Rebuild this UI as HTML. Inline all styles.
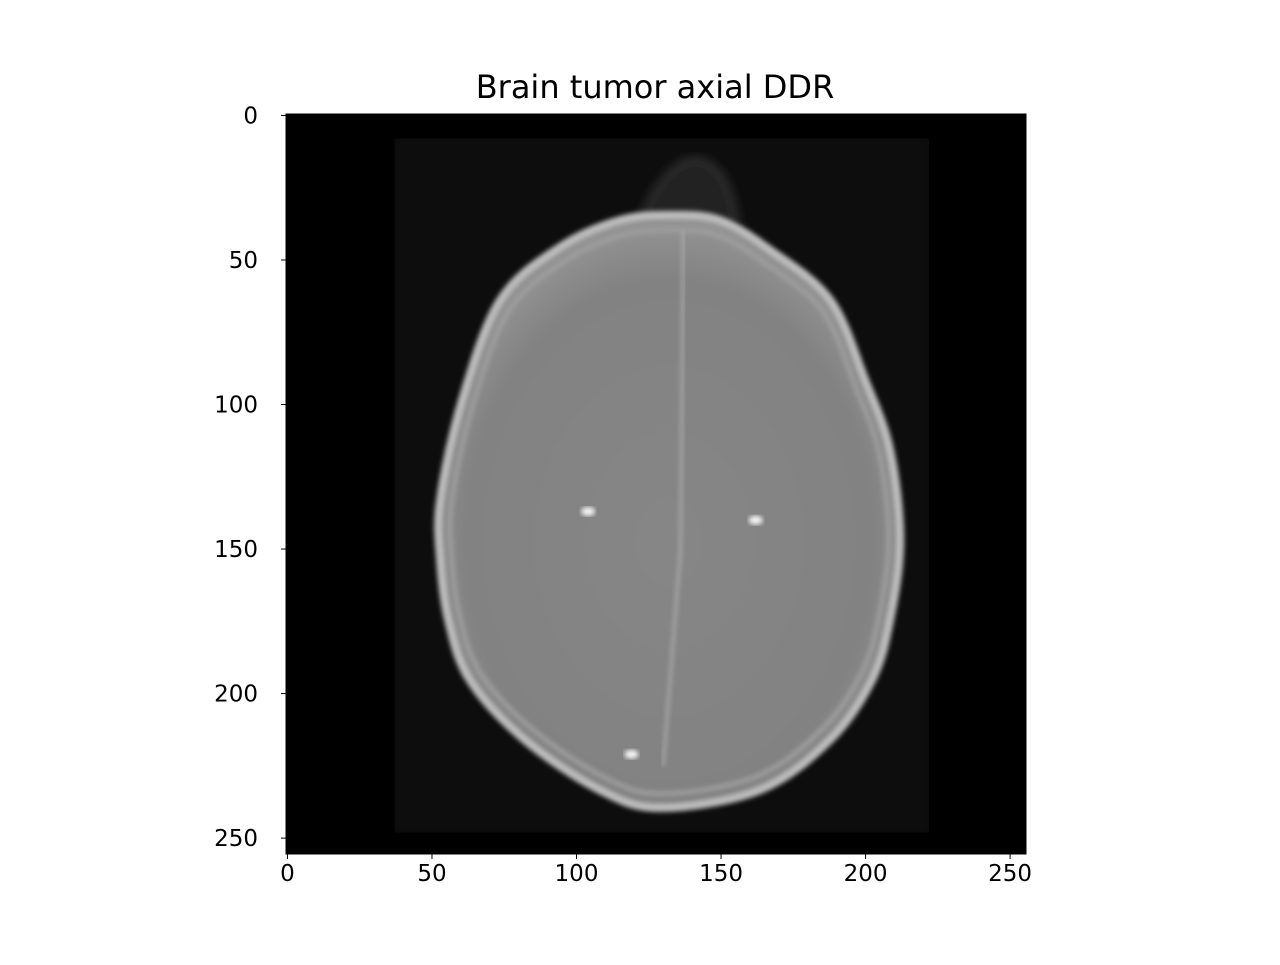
<!DOCTYPE html>
<html><head><meta charset="utf-8"><style>
body{margin:0;background:#fff;width:1280px;height:960px;overflow:hidden;font-family:"Liberation Sans","DejaVu Sans",sans-serif}
svg text{font-family:"DejaVu Sans","Liberation Sans",sans-serif}
</style></head><body>
<svg id="chart" width="1280" height="960" viewBox="0 0 1280 960" xmlns="http://www.w3.org/2000/svg">
<defs>
<radialGradient id="brain" cx="50%" cy="55%" r="55%">
<stop offset="0" stop-color="#868686"/><stop offset="0.8" stop-color="#828282"/><stop offset="1" stop-color="#959595"/>
</radialGradient>
<filter id="blur2"><feGaussianBlur stdDeviation="2.5"/></filter>
<filter id="blur5"><feGaussianBlur stdDeviation="5"/></filter>
</defs>
<text x="655" y="98" font-size="32" text-anchor="middle">Brain tumor axial DDR</text>
<g id="plot"></g>
<g id="axes"></g>
</svg>
<script>
const xTicks=[0,50,100,150,200,250];
const yTicks=[0,50,100,150,200,250];
const headX=[133,149.7,167,187.8,199.9,208.5,212,208.5,202.3,187.8,163.5,129,108,82,63,55.6,52.8,52.8,60.4,73.6,94.3,115];
const headY=[34.4,36.2,46.5,63.8,91.5,115.7,147,174.6,195.3,216,233.4,239.6,233.4,216,195.3,174.6,153.8,133,98.4,63.8,45.5,36.2];
const noseX=[121,127,134,141,148,153,156];
const noseY=[38,26,18,15,18,26,38];
const spotsX=[104,162,119];
const spotsY=[137,140,221];
const x0=286,y0=114,sz=740,N=256;
const sx=v=>x0+(v+0.5)*sz/N, sy=v=>y0+(v+0.5)*sz/N;
const ns="http://www.w3.org/2000/svg";
const plot=document.getElementById('plot'),axes=document.getElementById('axes');
function mk(tag,attrs,parent){const e=document.createElementNS(ns,tag);for(const k in attrs)e.setAttribute(k,attrs[k]);parent.appendChild(e);return e;}
function smooth(xs,ys,closed){const p=xs.map((x,i)=>[sx(x),sy(ys[i])]);const n=p.length;let d=`M${p[0][0]},${p[0][1]}`;const g=i=>closed?p[(i+n)%n]:p[Math.max(0,Math.min(n-1,i))];const m=closed?n:n-1;for(let i=0;i<m;i++){const a=g(i-1),b=g(i),c=g(i+1),e=g(i+2);d+=`C${b[0]+(c[0]-a[0])/6},${b[1]+(c[1]-a[1])/6} ${c[0]-(e[0]-b[0])/6},${c[1]-(e[1]-b[1])/6} ${c[0]},${c[1]}`;}return d+(closed?'Z':'');}
let e=mk('rect',{x:x0,y:y0,width:sz,height:sz,fill:'#000'},plot);

e=mk('rect',{x:sx(37),y:sy(8),width:sx(222)-sx(37),height:sy(248)-sy(8),fill:'#0c0c0c',filter:'url(#blur2)'},plot);

e=mk('path',{d:smooth(noseX,noseY,false),fill:'#222',stroke:'#3e3e3e','stroke-width':3,filter:'url(#blur5)'},plot);

e=mk('path',{d:smooth(headX,headY,true),fill:'url(#brain)',stroke:'#bdbdbd','stroke-width':8,filter:'url(#blur2)'},plot);

e=mk('path',{d:smooth(headX,headY,true),fill:'none',stroke:'#9e9e9e','stroke-width':5,filter:'url(#blur2)',transform:`translate(${sx(133)},${sy(140)}) scale(0.95) translate(${-sx(133)},${-sy(140)})`},plot);

e=mk('path',{d:`M${sx(137)},${sy(40)} L${sx(136)},${sy(150)} L${sx(130)},${sy(225)}`,stroke:'#b0b0b0','stroke-width':2.5,fill:'none',filter:'url(#blur2)'},plot);

spotsX.forEach((x,i)=>{const s=mk('ellipse',{cx:sx(x),cy:sy(spotsY[i]),rx:7,ry:4.5,fill:'#f4f4f4',filter:'url(#blur2)'},plot);
});
e=mk('rect',{x:x0,y:y0,width:sz,height:sz,fill:'none',stroke:'#000','stroke-width':1},axes);

xTicks.forEach(t=>{const x=sx(t);const l=mk('line',{x1:x,y1:y0+sz,x2:x,y2:y0+sz+5,stroke:'#000','stroke-width':1},axes);

const tx=mk('text',{x:x,y:y0+sz+27,'font-size':23,'text-anchor':'middle'},axes);tx.textContent=t;
});
yTicks.forEach(t=>{const y=sy(t);const l=mk('line',{x1:x0-5,y1:y,x2:x0,y2:y,stroke:'#000','stroke-width':1},axes);

const tx=mk('text',{x:x0-28,y:y+8,'font-size':23,'text-anchor':'end'},axes);tx.textContent=t;
});
</script>
</body></html>
